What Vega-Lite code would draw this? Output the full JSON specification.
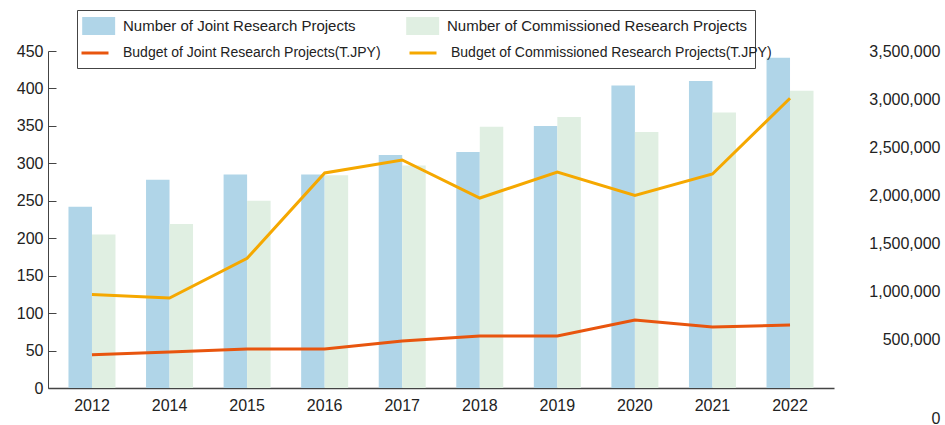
{
  "$schema": "https://vega.github.io/schema/vega-lite/v6.json",
  "width": 786,
  "height": 337,
  "autosize": {"type": "none"},
  "padding": {"left": 48, "top": 51, "right": 111, "bottom": 37},
  "config": {
    "view": {"stroke": null},
    "font": "Liberation Sans",
    "axis": {"labelFont": "Liberation Sans", "labelFontSize": 16, "labelColor": "#222", "grid": false, "title": null}
  },
  "data": {
    "values": [
      {"year": "2012", "series": "Number of Joint Research Projects", "value": 242},
      {"year": "2014", "series": "Number of Joint Research Projects", "value": 278},
      {"year": "2015", "series": "Number of Joint Research Projects", "value": 285},
      {"year": "2016", "series": "Number of Joint Research Projects", "value": 285},
      {"year": "2017", "series": "Number of Joint Research Projects", "value": 311},
      {"year": "2018", "series": "Number of Joint Research Projects", "value": 315},
      {"year": "2019", "series": "Number of Joint Research Projects", "value": 350},
      {"year": "2020", "series": "Number of Joint Research Projects", "value": 404},
      {"year": "2021", "series": "Number of Joint Research Projects", "value": 410},
      {"year": "2022", "series": "Number of Joint Research Projects", "value": 441},
      {"year": "2012", "series": "Number of Commissioned Research Projects", "value": 205},
      {"year": "2014", "series": "Number of Commissioned Research Projects", "value": 219},
      {"year": "2015", "series": "Number of Commissioned Research Projects", "value": 250},
      {"year": "2016", "series": "Number of Commissioned Research Projects", "value": 284},
      {"year": "2017", "series": "Number of Commissioned Research Projects", "value": 297},
      {"year": "2018", "series": "Number of Commissioned Research Projects", "value": 349},
      {"year": "2019", "series": "Number of Commissioned Research Projects", "value": 362},
      {"year": "2020", "series": "Number of Commissioned Research Projects", "value": 342},
      {"year": "2021", "series": "Number of Commissioned Research Projects", "value": 368},
      {"year": "2022", "series": "Number of Commissioned Research Projects", "value": 397},
      {"year": "2012", "series": "Budget of Joint Research Projects(T.JPY)", "value": 346000},
      {"year": "2014", "series": "Budget of Joint Research Projects(T.JPY)", "value": 374000},
      {"year": "2015", "series": "Budget of Joint Research Projects(T.JPY)", "value": 405000},
      {"year": "2016", "series": "Budget of Joint Research Projects(T.JPY)", "value": 405000},
      {"year": "2017", "series": "Budget of Joint Research Projects(T.JPY)", "value": 488000},
      {"year": "2018", "series": "Budget of Joint Research Projects(T.JPY)", "value": 540000},
      {"year": "2019", "series": "Budget of Joint Research Projects(T.JPY)", "value": 540000},
      {"year": "2020", "series": "Budget of Joint Research Projects(T.JPY)", "value": 706000},
      {"year": "2021", "series": "Budget of Joint Research Projects(T.JPY)", "value": 634000},
      {"year": "2022", "series": "Budget of Joint Research Projects(T.JPY)", "value": 654000},
      {"year": "2012", "series": "Budget of Commissioned Research Projects(T.JPY)", "value": 972000},
      {"year": "2014", "series": "Budget of Commissioned Research Projects(T.JPY)", "value": 935000},
      {"year": "2015", "series": "Budget of Commissioned Research Projects(T.JPY)", "value": 1347000},
      {"year": "2016", "series": "Budget of Commissioned Research Projects(T.JPY)", "value": 2233000},
      {"year": "2017", "series": "Budget of Commissioned Research Projects(T.JPY)", "value": 2368000},
      {"year": "2018", "series": "Budget of Commissioned Research Projects(T.JPY)", "value": 1973000},
      {"year": "2019", "series": "Budget of Commissioned Research Projects(T.JPY)", "value": 2243000},
      {"year": "2020", "series": "Budget of Commissioned Research Projects(T.JPY)", "value": 2001000},
      {"year": "2021", "series": "Budget of Commissioned Research Projects(T.JPY)", "value": 2223000},
      {"year": "2022", "series": "Budget of Commissioned Research Projects(T.JPY)", "value": 3009000}
    ]
  },
  "layer": [
    {
      "transform": [{"filter": "indexof(datum.series, 'Number') === 0"}],
      "mark": {"type": "bar"},
      "encoding": {
        "x": {
          "field": "year", "type": "nominal", "sort": null,
          "scale": {"paddingInner": 0.394, "paddingOuter": 0.264},
          "axis": {"title": null, "labelAngle": 0, "ticks": false, "domainColor": "#444", "domainWidth": 1.5, "labelPadding": 9}
        },
        "xOffset": {
          "field": "series", "type": "nominal",
          "scale": {"domain": ["Number of Joint Research Projects", "Number of Commissioned Research Projects"], "paddingInner": 0, "paddingOuter": 0}
        },
        "y": {
          "field": "value", "type": "quantitative",
          "scale": {"domain": [0, 450]},
          "axis": {"values": [0, 50, 100, 150, 200, 250, 300, 350, 400, 450], "tickSize": -8, "labelPadding": 13, "domainColor": "#444", "tickColor": "#444"}
        },
        "fill": {
          "field": "series", "type": "nominal",
          "scale": {
            "domain": ["Number of Joint Research Projects", "Number of Commissioned Research Projects"],
            "range": ["#b0d5e8", "#e0efe2"]
          },
          "legend": {
            "title": "                                                                                                                      ",
            "titleOrient": "bottom", "titleFontSize": 20, "titlePadding": 6, "titleLimit": 1000,
            "orient": "none", "legendX": 29, "legendY": -41, "direction": "horizontal",
            "symbolType": "M-1.2,-1H2.46V1H-1.2Z", "symbolSize": 324, "symbolStrokeWidth": 0,
            "labelOffset": 21, "columnPadding": 50, "padding": 7,
            "strokeColor": "#444", "fillColor": "transparent", "labelFontSize": 15, "labelColor": "#222", "labelLimit": 400
          }
        }
      }
    },
    {
      "transform": [{"filter": "indexof(datum.series, 'Budget') === 0"}],
      "mark": {"type": "line", "strokeWidth": 3},
      "encoding": {
        "x": {"field": "year", "type": "nominal", "sort": null},
        "y": {
          "field": "value", "type": "quantitative",
          "scale": {"domain": [0, 3500000]},
          "axis": {
            "orient": "right", "domain": false, "ticks": false, "labelAlign": "right", "labelPadding": 106,
            "values": [0, 500000, 1000000, 1500000, 2000000, 2500000, 3000000, 3500000], "format": ",d",
            "labelOffset": {"condition": {"test": "datum.value === 0", "value": 30}, "value": 0}
          }
        },
        "stroke": {
          "field": "series", "type": "nominal",
          "scale": {
            "domain": ["Budget of Joint Research Projects(T.JPY)", "Budget of Commissioned Research Projects(T.JPY)"],
            "range": ["#e8550e", "#f5a800"]
          },
          "legend": {
            "title": null, "orient": "none", "legendX": 32, "legendY": -13, "direction": "horizontal",
            "symbolType": "stroke", "symbolSize": 729, "symbolStrokeWidth": 3,
            "labelOffset": 13, "columnPadding": 22, "padding": 0,
            "labelFontSize": 14, "labelColor": "#222", "labelLimit": 400
          }
        }
      }
    }
  ],
  "resolve": {"scale": {"y": "independent"}}
}
